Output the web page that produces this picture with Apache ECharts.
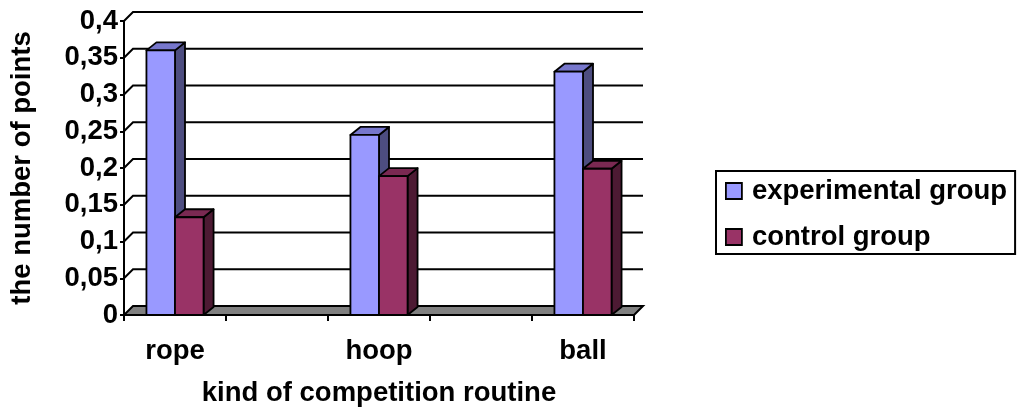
<!DOCTYPE html>
<html>
<head>
<meta charset="utf-8">
<script src="https://cdn.jsdelivr.net/npm/echarts@6/dist/echarts.min.js"></script>
<style>
  html, body { margin: 0; padding: 0; background: #fff; }
  #chart { width: 1017px; height: 412px; }
</style>
</head>
<body>
<div id="chart"></div>
<script>
// Competition routines and mean points per group
const routines = ['rope', 'hoop', 'ball'];
const experimental = [0.36, 0.245, 0.331];
const control = [0.133, 0.189, 0.199];
const yTicks = [0, 0.05, 0.1, 0.15, 0.2, 0.25, 0.3, 0.35, 0.4];
const seriesNames = ['experimental group', 'control group'];

// Spacer slots between routines on the category axis
const axisCats = [];
routines.forEach((r, i) => { if (i > 0) axisCats.push(''); axisCats.push(r); });
const slotOf = i => i * 2;

const FONT = "'Liberation Sans', Arial, sans-serif";
const WALL_DX = 9, WALL_DY = -9;   // depth of the back wall
const BAR_DX = 10, BAR_DY = -8;    // depth of each column
const BAR_RATIO = 0.28;            // column width as share of a category slot

const palettes = [
  { front: '#9999FF', top: '#7777CC', side: '#4D4D80' },
  { front: '#993366', top: '#7A2952', side: '#4D1A33' }
];

function renderFrame(params, api) {
  const v = api.value(0);
  const cs = params.coordSys;
  const x0 = cs.x, x1 = cs.x + cs.width;
  const y = api.coord([0, v])[1];
  if (v === 0) {
    return {
      type: 'polygon',
      shape: { points: [[x0, y], [x1, y], [x1 + WALL_DX, y + WALL_DY], [x0 + WALL_DX, y + WALL_DY]] },
      style: { fill: '#808080', stroke: '#000', lineWidth: 2 }
    };
  }
  return {
    type: 'polyline',
    shape: { points: [[x0, y], [x0 + WALL_DX, y + WALL_DY], [x1 + WALL_DX, y + WALL_DY]] },
    style: { stroke: '#000', lineWidth: 2, fill: null }
  };
}

function makeBarRenderer(slot) {
  const pal = palettes[slot];
  return function (params, api) {
    const cat = api.value(0), val = api.value(1);
    const base = api.coord([cat, 0]);
    const top = api.coord([cat, val]);
    const band = api.size([1, 0])[0];
    const w = band * BAR_RATIO;
    const x = base[0] + (slot === 0 ? -w : 0);
    const ty = top[1], by = base[1];
    const edge = { stroke: '#000', lineWidth: 1.8, lineJoin: 'round' };
    return {
      type: 'group',
      children: [
        { type: 'polygon',
          shape: { points: [[x + w, ty], [x + w + BAR_DX, ty + BAR_DY], [x + w + BAR_DX, by + BAR_DY], [x + w, by]] },
          style: Object.assign({ fill: pal.side }, edge) },
        { type: 'polygon',
          shape: { points: [[x, ty], [x + w, ty], [x + w + BAR_DX, ty + BAR_DY], [x + BAR_DX, ty + BAR_DY]] },
          style: Object.assign({ fill: pal.top }, edge) },
        { type: 'rect',
          shape: { x: x, y: ty, width: w, height: by - ty },
          style: Object.assign({ fill: pal.front }, edge) }
      ]
    };
  };
}

const chart = echarts.init(document.getElementById('chart'), null, { renderer: 'canvas' });

const textBase = { fontFamily: FONT, fontWeight: 'bold', fontSize: 27.5, color: '#000' };

chart.setOption({
  animation: false,
  backgroundColor: '#fff',
  grid: { left: 124, top: 21, width: 510, height: 295 },
  legend: {
    orient: 'vertical',
    left: 716, top: 171,
    padding: [5, 8, 2, 9],
    borderColor: '#000', borderWidth: 2,
    itemWidth: 16, itemHeight: 16, itemGap: 16,
    icon: 'rect',
    itemStyle: { borderColor: '#000', borderWidth: 1.8 },
    textStyle: Object.assign({ lineHeight: 30, padding: [0, 0, 0, 5] }, textBase),
    data: seriesNames
  },
  xAxis: {
    type: 'category',
    data: axisCats,
    boundaryGap: true,
    axisLine: { lineStyle: { color: '#000', width: 2 } },
    axisTick: { show: true, interval: 0, length: 6, lineStyle: { color: '#000', width: 2 } },
    axisLabel: Object.assign({ interval: 0, margin: 22 }, textBase),
    name: 'kind of competition routine',
    nameLocation: 'middle',
    nameGap: 64,
    nameTextStyle: textBase
  },
  yAxis: {
    type: 'value',
    min: 0, max: 0.4, interval: 0.05,
    splitLine: { show: false },
    axisLine: { show: true, lineStyle: { color: '#000', width: 2 } },
    axisTick: { show: true, length: 4, lineStyle: { color: '#000', width: 2 } },
    axisLabel: Object.assign({
      margin: 6,
      formatter: v => v === 0 ? '0' : String(Math.round(v * 100) / 100).replace('.', ',')
    }, textBase),
    name: 'the number of points',
    nameLocation: 'middle',
    nameRotate: 90,
    nameGap: 88,
    nameTextStyle: textBase
  },
  series: [
    {
      type: 'custom',
      name: 'walls',
      silent: true,
      clip: false,
      renderItem: renderFrame,
      data: yTicks.map(v => [v]),
      encode: { y: 0 },
      z: 1
    },
    {
      type: 'custom',
      name: seriesNames[0],
      clip: false,
      itemStyle: { color: palettes[0].front },
      renderItem: makeBarRenderer(0),
      data: experimental.map((v, i) => [slotOf(i), v]),
      encode: { x: 0, y: 1 },
      z: 2
    },
    {
      type: 'custom',
      name: seriesNames[1],
      clip: false,
      itemStyle: { color: palettes[1].front },
      renderItem: makeBarRenderer(1),
      data: control.map((v, i) => [slotOf(i), v]),
      encode: { x: 0, y: 1 },
      z: 3
    }
  ]
});
</script>
</body>
</html>
